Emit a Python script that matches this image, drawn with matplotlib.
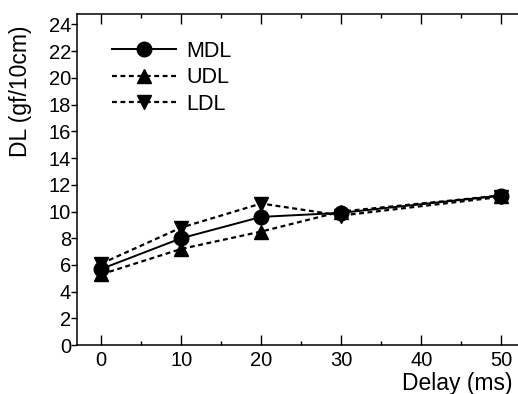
import numpy as np
import matplotlib.pyplot as plt
from matplotlib.ticker import MultipleLocator

plt.rcParams['font.family'] = ['Liberation Sans', 'DejaVu Sans']

# delay values and the three discrimination limits
delay = [0, 10, 20, 30, 50]
mdl = [5.7, 8.0, 9.6, 9.9, 11.2]
udl = [5.3, 7.2, 8.5, 10.0, 11.2]
ldl = [6.1, 8.8, 10.6, 9.7, 11.1]

fig = plt.figure(figsize=(5.18, 3.94), dpi=100)
ax = fig.add_axes([0.149, 0.124, 0.851, 0.841])

dots = (0, (2.2, 1.6))
ax.plot(delay, mdl, 'k-', lw=1.4, marker='o', ms=10.5, label='MDL', zorder=3)
ax.plot(delay, udl, color='k', ls=dots, lw=1.6, marker='^', ms=10.5, label='UDL')
ax.plot(delay, ldl, color='k', ls=dots, lw=1.6, marker='v', ms=10.5, label='LDL')

ax.set_xlim(-3, 52.1)
ax.set_ylim(0, 24.8)
ax.xaxis.set_major_locator(MultipleLocator(10))
ax.xaxis.set_minor_locator(MultipleLocator(5))
ax.yaxis.set_major_locator(MultipleLocator(2))

ax.tick_params(axis='x', which='major', direction='in', length=7, width=1,
               top=True, labelsize=14.5, pad=4)
ax.tick_params(axis='x', which='minor', direction='in', length=3, width=1, top=True)
ax.tick_params(axis='y', which='major', direction='out', length=4, width=1,
               labelsize=14.5, pad=0.5)
for s in ax.spines.values():
    s.set_linewidth(1.1)
ax.spines['right'].set_linewidth(0.6)

ax.set_ylabel('DL (gf/10cm)', fontsize=16.5)
ax.yaxis.set_label_coords(-0.102, 0.765)
fig.text(0.99, 0.027, 'Delay (ms)', fontsize=16.5, ha='right', va='center')

leg = ax.legend(loc='upper left', bbox_to_anchor=(0.079, 0.918), frameon=False,
                fontsize=15.5, handlelength=2.95, handletextpad=0.5,
                labelspacing=0.25, borderaxespad=0, borderpad=0)

fig.savefig('out.png', dpi=100)
